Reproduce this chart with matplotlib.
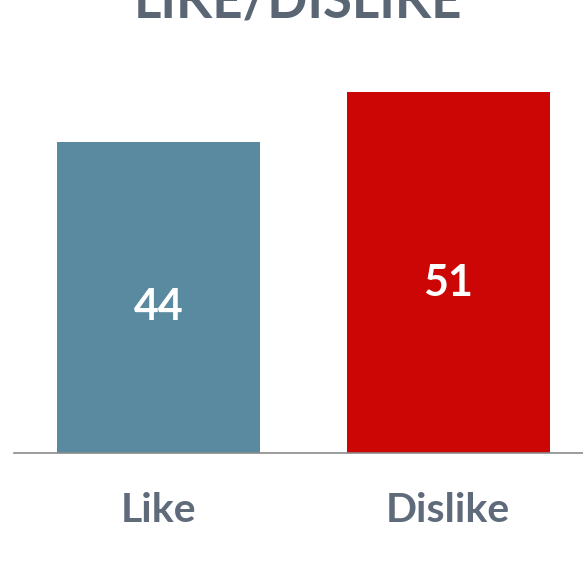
import matplotlib
matplotlib.use("Agg")
import matplotlib.pyplot as plt

categories = ["Like", "Dislike"]
values = [44, 51]
colors = ["#5a8a9f", "#cc0605"]
title = "LIKE/DISLIKE"

W, H = 583, 584
fig = plt.figure(figsize=(W / 100, H / 100), dpi=100)
px_per_unit = 7.07
ymax = 60
ax_h = ymax * px_per_unit
base_y = 453
left = 14
spacing = 289.5
ax_w = 2 * spacing
ax = fig.add_axes([left / W, (H - base_y) / H, ax_w / W, ax_h / H])

xs = list(range(len(categories)))
bars = ax.bar(xs, values, width=0.70, color=colors)
ax.set_xlim(-0.5, 1.5)
ax.set_ylim(0, ymax)
for s in ["top", "right", "left"]:
    ax.spines[s].set_visible(False)
ax.spines["bottom"].set_color("#8a8a8a")
ax.spines["bottom"].set_linewidth(1.2)
ax.set_yticks([])
ax.set_xticks(xs)
ax.set_xticklabels(categories, fontsize=29.5, fontweight="bold", color="#5f6b7a", family="Lato")
ax.tick_params(axis="x", length=0, pad=28)

for x, v in zip(xs, values):
    ax.text(x, v / 2 - 1.4, str(v), ha="center", va="center", fontsize=31,
            fontweight="bold", color="white", family="Lato")

fig.text(298 / W, 1 - 18 / H, title, ha="center", va="baseline", fontsize=38,
         fontweight="bold", color="#5b6675", family="Lato")

fig.savefig("out.png", dpi=100)
